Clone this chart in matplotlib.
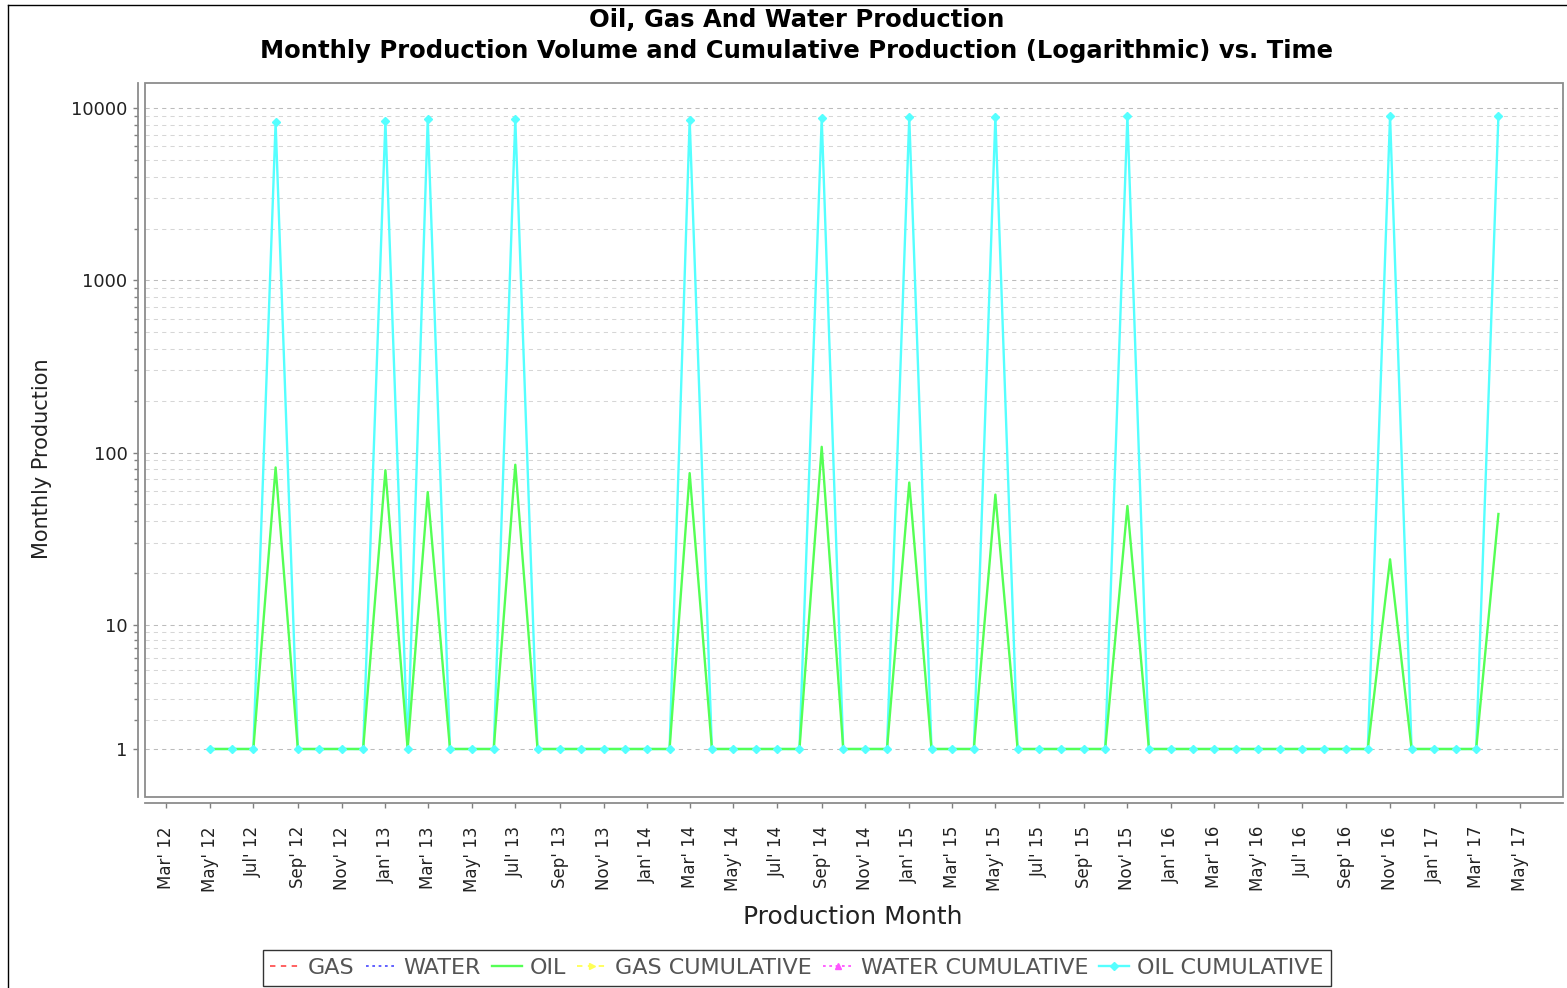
import numpy as np
import pandas as pd
import matplotlib
matplotlib.use('Agg')
import matplotlib.pyplot as plt
import matplotlib.dates as mdates
from matplotlib.ticker import FixedLocator, FuncFormatter, NullFormatter
from matplotlib.lines import Line2D
from matplotlib.patches import Rectangle

# bulan produksi: Mei 2012 s/d Apr 2017 (awal bulan)
bulan = pd.date_range('2012-05-01', periods=60, freq='MS')

# produksi minyak bulanan (nilai 1 = tidak ada produksi)
oil_monthly = [
    1, 1, 1, 82, 1, 1, 1, 1, 79, 1, 59, 1,      # Mei'12 - Apr'13
    1, 1, 85, 1, 1, 1, 1, 1, 1, 1, 76, 1,       # Mei'13 - Apr'14
    1, 1, 1, 1, 108, 1, 1, 1, 67, 1, 1, 1,      # Mei'14 - Apr'15
    57, 1, 1, 1, 1, 1, 49, 1, 1, 1, 1, 1,       # Mei'15 - Apr'16
    1, 1, 1, 1, 1, 1, 24, 1, 1, 1, 1, 44,       # Mei'16 - Apr'17
]

# kumulatif minyak
oil_cumulative = [
    1, 1, 1, 8260, 1, 1, 1, 1, 8400, 1, 8630, 1,
    1, 1, 8630, 1, 1, 1, 1, 1, 1, 1, 8550, 1,
    1, 1, 1, 1, 8750, 1, 1, 1, 8830, 1, 1, 1,
    8900, 1, 1, 1, 1, 1, 9020, 1, 1, 1, 1, 1,
    1, 1, 1, 1, 1, 1, 9020, 1, 1, 1, 1, 9050,
]

# seri lain kosong (cuma muncul di legend)
gas_monthly = []
water_monthly = []
gas_cumulative = []
water_cumulative = []

y_major = [1, 10, 100, 1000, 10000]
y_minor = [m * d for d in (1, 10, 100, 1000) for m in range(2, 10)]


# skala log "adjusted" ala JFreeChart (nilai < 10 digeser)
def fwd(v):
    v = np.clip(np.asarray(v, dtype=float), 0, None)
    v = np.where(v < 10, v + (10 - v) / 10.0, v)
    return np.log10(v)


def inv(y):
    y = np.asarray(y, dtype=float)
    p = 10.0 ** y
    return np.where(y < 1, (p - 1) / 0.9, p)


W, H = 1567, 988
fig = plt.figure(figsize=(W / 100, H / 100), dpi=100)
ax = fig.add_axes([145 / W, 1 - 797 / H, (1563 - 145) / W, (797 - 83) / H])

ax.set_yscale('function', functions=(fwd, inv))
ax.set_ylim(0, 14000)
ax.set_xlim(pd.Timestamp('2012-02-01'), pd.Timestamp('2017-06-30'))

# garis
ax.plot(bulan, oil_cumulative, color='#55FFFF', lw=1.7, zorder=3)
ax.plot(bulan, oil_monthly, color='#55FF55', lw=1.7, zorder=4)
ax.plot(bulan, oil_cumulative, linestyle='none', marker='D', ms=4.5,
        color='#55FFFF', zorder=5)
ax.plot(bulan[:len(gas_monthly)], gas_monthly, color='#FF5555')
ax.plot(bulan[:len(water_monthly)], water_monthly, color='#5555FF')

# sumbu y
ax.yaxis.set_major_locator(FixedLocator(y_major))
ax.yaxis.set_minor_locator(FixedLocator(y_minor))
ax.yaxis.set_major_formatter(FuncFormatter(lambda v, p: f'{v:.0f}'))
ax.yaxis.set_minor_formatter(NullFormatter())
ax.yaxis.grid(True, which='major', color='#bcbcbc', linestyle=(0, (4, 4)), lw=0.75)
ax.yaxis.grid(True, which='minor', color='#d6d6d6', linestyle=(0, (4, 4)), lw=0.75)
ax.tick_params(axis='y', which='major', length=3.6, width=1, color='#808080',
               labelsize=13, labelcolor='#222222', pad=4)
ax.tick_params(axis='y', which='minor', length=3.0, width=1, color='#808080')

# sumbu x
ax.xaxis.set_major_locator(mdates.MonthLocator(bymonth=[1, 3, 5, 7, 9, 11]))
ax.xaxis.set_major_formatter(mdates.DateFormatter("%b' %y"))
ax.tick_params(axis='x', which='major', length=3.6, width=1, color='#808080',
               labelsize=12, labelcolor='#222222', pad=13, labelrotation=90)

for s in ('top', 'right'):
    ax.spines[s].set_visible(False)
ax.spines['left'].set_position(('outward', 5))
ax.spines['bottom'].set_position(('outward', 4.3))
for s in ('left', 'bottom'):
    ax.spines[s].set_color('#8c8c8c')
    ax.spines[s].set_linewidth(1.3)

# bingkai area plot
ax.add_patch(Rectangle((0, 0), 1, 1, transform=ax.transAxes, fill=False,
                       edgecolor='#8c8c8c', lw=1.3, clip_on=False, zorder=6))

# judul dan label
fig.text(797 / W, 1 - 20 / H, 'Oil, Gas And Water Production',
         ha='center', va='center', fontsize=17.5, fontweight='bold')
fig.text(797 / W, 1 - 51 / H,
         'Monthly Production Volume and Cumulative Production (Logarithmic) vs. Time',
         ha='center', va='center', fontsize=17.5, fontweight='bold')
fig.text(42 / W, 1 - 459 / H, 'Monthly Production', rotation=90,
         ha='center', va='center', fontsize=15, color='#222222')
fig.text(853 / W, 1 - 917 / H, 'Production Month',
         ha='center', va='center', fontsize=18, color='#222222')

# legend
handles = [
    Line2D([], [], color='#FF5555', lw=1.3, linestyle=(0, (3, 3))),
    Line2D([], [], color='#5555FF', lw=1.3, linestyle=(0, (1.5, 2))),
    Line2D([], [], color='#55FF55', lw=1.7),
    Line2D([], [], color='#FFFF55', lw=1.3, linestyle=(0, (3, 3)), marker='>', ms=5),
    Line2D([], [], color='#FF55FF', lw=1.3, linestyle=(0, (1.5, 2)), marker='^', ms=5),
    Line2D([], [], color='#55FFFF', lw=1.7, marker='D', ms=4.5),
]
labels = ['GAS', 'WATER', 'OIL', 'GAS CUMULATIVE', 'WATER CUMULATIVE', 'OIL CUMULATIVE']
leg = fig.legend(handles, labels, loc='upper center', bbox_to_anchor=(797 / W, 1 - 950 / H),
                 ncol=6, frameon=True, fancybox=False, edgecolor='black', fontsize=16,
                 handlelength=1.35, handletextpad=0.35, columnspacing=0.5,
                 borderpad=0.35, borderaxespad=0)
leg.get_frame().set_linewidth(1.0)
for t in leg.get_texts():
    t.set_color('#555555')

# garis bingkai luar
fig.add_artist(Line2D([7.5 / W, 7.5 / W], [0, 1 - 5.5 / H], color='black', lw=1))
fig.add_artist(Line2D([7.5 / W, 1], [1 - 5.5 / H, 1 - 5.5 / H], color='black', lw=1))

fig.savefig('out.png', dpi=100)
